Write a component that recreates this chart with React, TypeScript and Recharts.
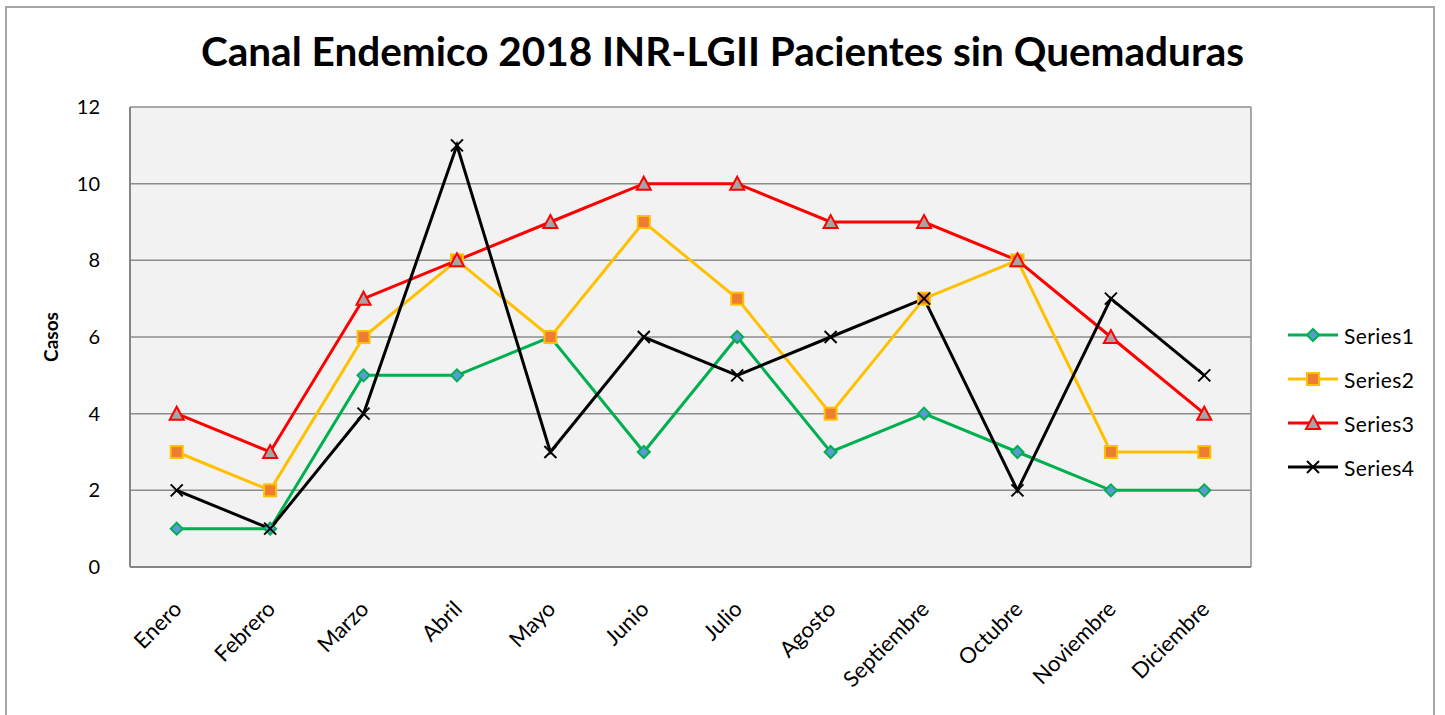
import { LineChart, Line, XAxis, YAxis, CartesianGrid, Legend } from "recharts";

const months = [
  "Enero",
  "Febrero",
  "Marzo",
  "Abril",
  "Mayo",
  "Junio",
  "Julio",
  "Agosto",
  "Septiembre",
  "Octubre",
  "Noviembre",
  "Diciembre",
];
const series1 = [1, 1, 5, 5, 6, 3, 6, 3, 4, 3, 2, 2];
const series2 = [3, 2, 6, 8, 6, 9, 7, 4, 7, 8, 3, 3];
const series3 = [4, 3, 7, 8, 9, 10, 10, 9, 9, 8, 6, 4];
const series4 = [2, 1, 4, 11, 3, 6, 5, 6, 7, 2, 7, 5];
const yTicks = [0, 2, 4, 6, 8, 10, 12];

const data = months.map((m, i) => ({
  month: m,
  Series1: series1[i],
  Series2: series2[i],
  Series3: series3[i],
  Series4: series4[i],
}));

const FONT = "Lato, 'Open Sans', sans-serif";

type Shape = "diamond" | "square" | "triangle" | "cross";

function marker(shape: Shape, cx: number, cy: number, key?: string) {
  if (shape === "diamond")
    return (
      <polygon
        key={key}
        points={`${cx},${cy - 6} ${cx + 6},${cy} ${cx},${cy + 6} ${cx - 6},${cy}`}
        fill="#5B9BD5"
        stroke="#00B050"
        strokeWidth={2}
      />
    );
  if (shape === "square")
    return (
      <rect
        key={key}
        x={cx - 6}
        y={cy - 6}
        width={12}
        height={12}
        fill="#ED7D31"
        stroke="#FFC000"
        strokeWidth={2}
      />
    );
  if (shape === "triangle")
    return (
      <polygon
        key={key}
        points={`${cx},${cy - 7} ${cx + 7},${cy + 6} ${cx - 7},${cy + 6}`}
        fill="#A5A5A5"
        stroke="#FF0000"
        strokeWidth={2}
      />
    );
  return (
    <g key={key}>
      <line x1={cx - 6} y1={cy - 6} x2={cx + 6} y2={cy + 6} stroke="#000" strokeWidth={2} />
      <line x1={cx - 6} y1={cy + 6} x2={cx + 6} y2={cy - 6} stroke="#000" strokeWidth={2} />
    </g>
  );
}

const seriesDefs: { key: string; color: string; shape: Shape }[] = [
  { key: "Series1", color: "#00B050", shape: "diamond" },
  { key: "Series2", color: "#FFC000", shape: "square" },
  { key: "Series3", color: "#FF0000", shape: "triangle" },
  { key: "Series4", color: "#000000", shape: "cross" },
];

const makeDot = (shape: Shape, name: string) => (props: any) =>
  marker(shape, props.cx, props.cy, `${name}-${props.index}`);

const MonthTick = ({ x, y, payload }: any) => (
  <g transform={`translate(${x + 1},${y + 30}) rotate(-45)`}>
    <text
      x={0}
      y={0}
      dy="0.35em"
      textAnchor="end"
      fontFamily={FONT}
      fontSize={22}
      fill="#000"
    >
      {payload.value}
    </text>
  </g>
);

const renderLegend = () => (
  <div style={{ width: 194, paddingLeft: 35, boxSizing: "border-box" }}>
    {seriesDefs.map((s) => (
      <div
        key={s.key}
        style={{ display: "flex", alignItems: "center", height: 44 }}
      >
        <svg width={54} height={20}>
          <line x1={2} y1={10} x2={52} y2={10} stroke={s.color} strokeWidth={3} />
          {marker(s.shape, 27, 10)}
        </svg>
        <span
          style={{
            fontFamily: FONT,
            fontSize: 21,
            color: "#000",
            marginLeft: 4,
            letterSpacing: 0.4,
          }}
        >
          {s.key}
        </span>
      </div>
    ))}
  </div>
);

export default function App() {
  return (
    <div style={{ position: "relative", width: 1445, height: 715 }}>
      <style>{"body{margin:0}"}</style>
      <div
        style={{
          position: "absolute",
          left: 5,
          top: 6,
          width: 1430,
          height: 715,
          border: "2px solid #a6a6a6",
          boxSizing: "border-box",
        }}
      />
      <div
        style={{
          position: "absolute",
          left: 0,
          top: 26,
          width: 1445,
          textAlign: "center",
          fontFamily: FONT,
          fontWeight: 700,
          fontSize: 40.5,
          color: "#000",
        }}
      >
        Canal Endemico 2018 INR-LGII Pacientes sin Quemaduras
      </div>
      <div
        style={{
          position: "absolute",
          left: 50,
          top: 337,
          transform: "translate(-50%, -50%) rotate(-90deg)",
          fontFamily: FONT,
          fontWeight: 700,
          fontSize: 19,
          color: "#000",
        }}
      >
        Casos
      </div>
      <LineChart
        width={1445}
        height={715}
        data={data}
        margin={{ top: 107, right: 0, bottom: 0, left: 0 }}
        style={{ position: "absolute", left: 0, top: 0 }}
      >
        <CartesianGrid
          fill="#F2F2F2"
          stroke="#8c8c8c"
          strokeWidth={1.5}
          verticalCoordinatesGenerator={({ offset }: any) => [
            offset.left,
            offset.left + offset.width,
          ]}
        />
        <XAxis
          dataKey="month"
          scale="band"
          height={148}
          tickLine={false}
          axisLine={{ stroke: "#868686", strokeWidth: 2 }}
          tick={<MonthTick />}
          interval={0}
        />
        <YAxis
          width={130}
          domain={[0, 12]}
          ticks={yTicks}
          tickLine={false}
          axisLine={{ stroke: "#868686", strokeWidth: 2 }}
          tickMargin={24}
          tick={{ fontFamily: FONT, fontSize: 20, fill: "#000" }}
        />
        <Legend
          layout="vertical"
          align="right"
          verticalAlign="middle"
          content={renderLegend}
          wrapperStyle={{ top: 313, right: 0, width: 194 }}
        />
        {seriesDefs.map((s) => (
          <Line
            key={s.key}
            type="linear"
            dataKey={s.key}
            stroke={s.color}
            strokeWidth={3}
            dot={makeDot(s.shape, s.key)}
            activeDot={false}
            isAnimationActive={false}
          />
        ))}
      </LineChart>
    </div>
  );
}
